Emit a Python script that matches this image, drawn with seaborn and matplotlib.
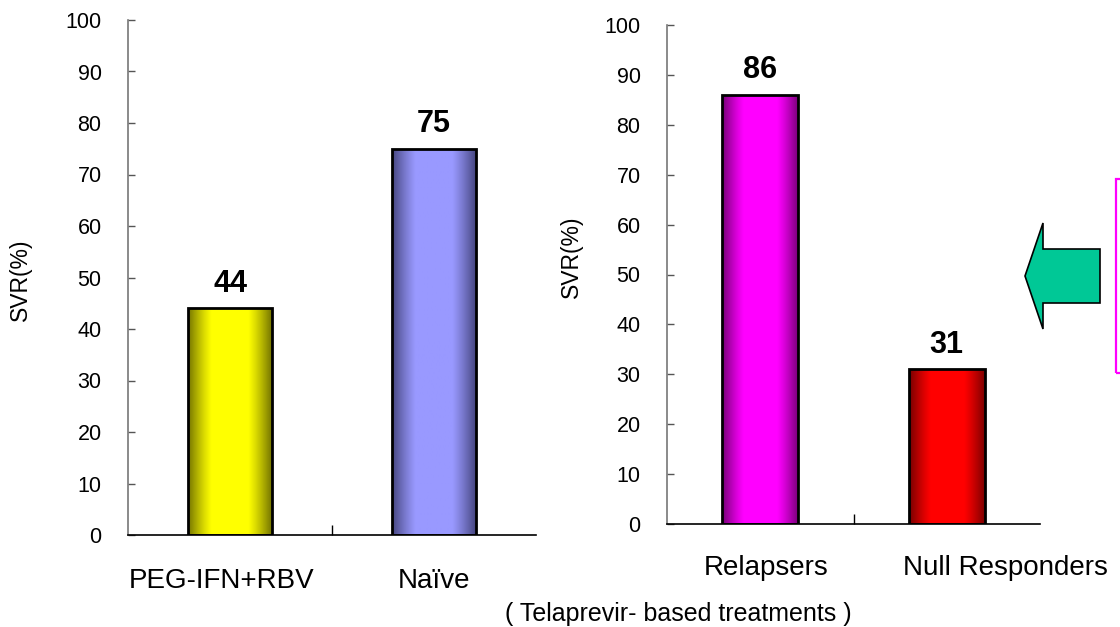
import numpy as np
import pandas as pd
import matplotlib
matplotlib.use("Agg")
import matplotlib.pyplot as plt
import matplotlib.transforms as mtransforms
from matplotlib.patches import Polygon, Rectangle
import seaborn as sns

# Left panel: standard therapy vs. telaprevir in naive patients
left_groups = ["PEG-IFN+RBV", "Naïve"]
left_svr = [44, 75]
left_bright = ["#FFFF00", "#9999FF"]
left_dark = ["#757500", "#464680"]

# Right panel: telaprevir-based treatments in previously treated patients
right_groups = ["Relapsers", "Null Responders"]
right_svr = [86, 31]
right_bright = ["#FF00FF", "#FF0000"]
right_dark = ["#750075", "#750000"]

y_ticks = list(range(0, 101, 10))
y_label = "SVR(%)"
footnote = "( Telaprevir- based treatments )"

sns.set_theme(style="white")
plt.rcParams["font.family"] = ["Liberation Sans", "DejaVu Sans"]
plt.rcParams["text.color"] = "black"

fig = plt.figure(figsize=(11.2, 6.27), dpi=100)
W, H = 1120, 627


def px_axes(x0, x1, y_top, y_bottom):
    return fig.add_axes([x0 / W, 1 - y_bottom / H, (x1 - x0) / W, (y_bottom - y_top) / H])


def shade_bars(ax, bright, dark):
    t = np.linspace(0, 1, 200)
    prof = np.clip(np.sin(np.pi * t) * 1.3, 0, 1)
    for patch, b, d in zip(ax.patches, bright, dark):
        b = np.array(matplotlib.colors.to_rgb(b))
        d = np.array(matplotlib.colors.to_rgb(d))
        grad = d[None, :] + (b - d)[None, :] * prof[:, None]
        img = grad[None, :, :]
        x = patch.get_x()
        w = patch.get_width()
        h = patch.get_height()
        im = ax.imshow(img, extent=[x, x + w, 0, h], aspect="auto",
                       interpolation="bilinear", zorder=2)
        im.set_clip_path(patch)
        patch.set_facecolor("none")
        patch.set_edgecolor("black")
        patch.set_linewidth(2.0)
        patch.set_zorder(3)


def panel(ax, groups, values, bright, dark, label_pad, label_shift, ylab_xy):
    df = pd.DataFrame({"group": groups, "svr": values})
    sns.barplot(data=df, x="group", y="svr", hue="group", palette=bright,
                width=0.41, legend=False, ax=ax, saturation=1)
    shade_bars(ax, bright, dark)
    ax.set_xlim(-0.5, len(groups) - 0.5)
    ax.set_ylim(0, 100)
    ax.set_yticks(y_ticks)
    ax.set_yticklabels([str(v) for v in y_ticks], fontsize=15.5)
    ax.set_xticks([0.5], minor=True)
    ax.set_xticks(range(len(groups)))
    ax.set_xticklabels(groups, fontsize=20)
    ax.tick_params(axis="x", which="major", length=0, pad=label_pad, colors="black")
    ax.tick_params(axis="x", which="minor", direction="in", length=7, width=1,
                   color="black", bottom=True)
    ax.tick_params(axis="y", direction="in", length=5, width=1, color="#555555",
                   pad=19, left=True, labelcolor="black")
    # nudge category labels sideways (points)
    for lab, dx in zip(ax.get_xticklabels(), label_shift):
        lab.set_transform(lab.get_transform() +
                          mtransforms.ScaledTranslation(dx / 72, 0, fig.dpi_scale_trans))
    for s in ["top", "right"]:
        ax.spines[s].set_visible(False)
    ax.spines["left"].set_color("#777777")
    ax.spines["left"].set_linewidth(1.2)
    ax.spines["bottom"].set_color("black")
    ax.spines["bottom"].set_linewidth(1.2)
    ax.set_xlabel("")
    ax.set_ylabel(y_label, fontsize=16.5, color="black")
    ax.yaxis.set_label_coords(*ylab_xy)
    for patch, v in zip(ax.patches, values):
        ax.annotate(str(v), (patch.get_x() + patch.get_width() / 2, v),
                    xytext=(0, 7), textcoords="offset points", ha="center",
                    va="bottom", fontsize=22, fontweight="bold", color="black")
    ax.set_facecolor("white")


ax1 = px_axes(128, 536, 20, 535)
panel(ax1, left_groups, left_svr, left_bright, left_dark, 24, [-6, 0], (-0.235, 0.495))

ax2 = px_axes(667, 1040, 25, 524)
panel(ax2, right_groups, right_svr, right_bright, right_dark, 22, [4, 42], (-0.225, 0.535))

fig.text(678 / W, 1 - 614 / H, footnote, ha="center", va="center", fontsize=18,
         color="black")

# Green pointer arrow and the framed note box on the right edge
arrow_px = [(1025, 276), (1043, 223), (1043, 249), (1100, 249),
            (1100, 303), (1043, 303), (1043, 329)]
arrow = Polygon([(x / W, 1 - y / H) for x, y in arrow_px], closed=True,
                transform=fig.transFigure, facecolor="#00C896",
                edgecolor="black", linewidth=1.2)
fig.patches.append(arrow)
box = Rectangle((1116 / W, 1 - 373 / H), 40 / W, (373 - 179) / H,
                transform=fig.transFigure, facecolor="none",
                edgecolor="#FF00FF", linewidth=1.6)
fig.patches.append(box)

fig.savefig("out.png", dpi=100, facecolor="white")
